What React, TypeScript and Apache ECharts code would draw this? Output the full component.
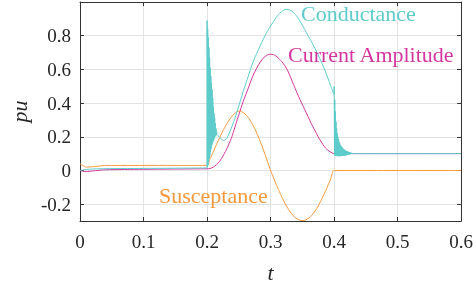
import React, { useEffect, useRef } from "react";
import * as echarts from "echarts";

// ---- data ----
const xTicks = [0, 0.1, 0.2, 0.3, 0.4, 0.5, 0.6];
const yTicks = [-0.2, 0, 0.2, 0.4, 0.6, 0.8];

const condStart: [number, number][] = [[0, 0.0], [0.01, 0.006], [0.03, 0.01], [0.1, 0.012], [0.2, 0.015]];
const condBurst1: [number, number][] = [
  [0.2, 0.015], [0.2001, 0.89], [0.2006, 0.02], [0.2011, 0.84], [0.2016, 0.03], [0.2021, 0.79], [0.2026, 0.05],
  [0.2031, 0.73], [0.2036, 0.07], [0.2041, 0.67], [0.2046, 0.09], [0.2051, 0.61], [0.2056, 0.11], [0.2061, 0.56],
  [0.2066, 0.13], [0.2071, 0.52], [0.2076, 0.15], [0.2081, 0.48], [0.2086, 0.16], [0.2091, 0.43], [0.2096, 0.17],
  [0.2101, 0.38], [0.2106, 0.18], [0.2111, 0.34], [0.2116, 0.19], [0.2121, 0.31], [0.2126, 0.2], [0.2131, 0.28],
  [0.2136, 0.205], [0.2141, 0.25], [0.2146, 0.21], [0.2151, 0.23], [0.2156, 0.215],
];
const condPulse: [number, number][] = [
  [0.2156, 0.215], [0.218, 0.205], [0.222, 0.188], [0.226, 0.178], [0.231, 0.19], [0.236, 0.23], [0.242, 0.29],
  [0.249, 0.37], [0.257, 0.47], [0.265, 0.56], [0.272, 0.64], [0.28, 0.71], [0.288, 0.775], [0.295, 0.826],
  [0.303, 0.875], [0.311, 0.92], [0.318, 0.945], [0.324, 0.956], [0.33, 0.953], [0.337, 0.935], [0.345, 0.895],
  [0.354, 0.835], [0.365, 0.76], [0.375, 0.685], [0.385, 0.6], [0.395, 0.5], [0.4, 0.45],
];
const condBurst2: [number, number][] = [
  [0.4, 0.45], [0.4001, 0.5], [0.4006, 0.09], [0.4011, 0.42], [0.4016, 0.088], [0.4021, 0.35], [0.4026, 0.087],
  [0.4031, 0.29], [0.4036, 0.086], [0.4041, 0.25], [0.4046, 0.085], [0.4051, 0.22], [0.4056, 0.085], [0.4061, 0.2],
  [0.4066, 0.085], [0.4071, 0.185], [0.4076, 0.085], [0.4081, 0.17], [0.4086, 0.085], [0.4091, 0.16], [0.4096, 0.085],
  [0.4101, 0.15], [0.4106, 0.085], [0.4111, 0.145], [0.4116, 0.086], [0.4121, 0.14], [0.4126, 0.086], [0.4131, 0.135],
  [0.4136, 0.087], [0.4141, 0.13], [0.4146, 0.087], [0.4151, 0.127], [0.4156, 0.088], [0.4161, 0.124], [0.4166, 0.088],
  [0.4171, 0.121], [0.4176, 0.089], [0.4181, 0.118], [0.4186, 0.09], [0.4191, 0.116], [0.4196, 0.091], [0.4201, 0.114],
  [0.4206, 0.092], [0.4211, 0.112], [0.4216, 0.093], [0.4221, 0.111], [0.4226, 0.094], [0.4231, 0.11], [0.4236, 0.095],
  [0.4241, 0.108], [0.4246, 0.096], [0.4251, 0.107], [0.4256, 0.097], [0.4261, 0.106], [0.4266, 0.098], [0.4271, 0.105],
  [0.4276, 0.098], [0.4281, 0.104], [0.4286, 0.099], [0.4291, 0.103], [0.4296, 0.099], [0.4301, 0.102], [0.431, 0.1],
];
const condEnd: [number, number][] = [[0.431, 0.1], [0.6, 0.1]];

const current: [number, number][] = [
  [0, 0], [0.005, -0.005], [0.01, -0.007], [0.02, -0.003], [0.04, 0.004], [0.1, 0.007], [0.2, 0.01],
  [0.205, 0.012], [0.21, 0.02], [0.215, 0.035], [0.22, 0.055], [0.225, 0.085], [0.23, 0.12], [0.236, 0.17],
  [0.24, 0.21], [0.245, 0.27], [0.25, 0.33], [0.257, 0.41], [0.265, 0.49], [0.272, 0.56], [0.28, 0.62],
  [0.288, 0.665], [0.295, 0.685], [0.3, 0.69], [0.305, 0.687], [0.31, 0.675], [0.318, 0.645], [0.326, 0.6],
  [0.334, 0.53], [0.344, 0.44], [0.354, 0.36], [0.364, 0.28], [0.375, 0.2], [0.385, 0.14], [0.392, 0.115],
  [0.397, 0.104], [0.4, 0.1], [0.45, 0.1], [0.6, 0.1],
];

const susceptance: [number, number][] = [
  [0, 0.04], [0.004, 0.03], [0.01, 0.02], [0.02, 0.022], [0.035, 0.028], [0.05, 0.03], [0.2, 0.03],
  [0.205, 0.07], [0.21, 0.112], [0.215, 0.155], [0.22, 0.196], [0.225, 0.235], [0.23, 0.27], [0.235, 0.3],
  [0.24, 0.325], [0.245, 0.343], [0.25, 0.352], [0.255, 0.348], [0.26, 0.335], [0.265, 0.314], [0.27, 0.285],
  [0.275, 0.249], [0.28, 0.207], [0.285, 0.16], [0.29, 0.109], [0.295, 0.055], [0.3, 0], [0.305, -0.047],
  [0.31, -0.092], [0.315, -0.135], [0.32, -0.175], [0.325, -0.211], [0.33, -0.241], [0.335, -0.266], [0.34, -0.283],
  [0.345, -0.294], [0.35, -0.298], [0.355, -0.294], [0.36, -0.283], [0.365, -0.266], [0.37, -0.241], [0.375, -0.211],
  [0.38, -0.175], [0.385, -0.135], [0.39, -0.092], [0.395, -0.047], [0.4, 0], [0.45, 0], [0.6, 0],
];

const CYAN = "#5ecbcb";
const MAGENTA = "#d3369f";
const ORANGE = "#f8993c";
const FONT = "'Liberation Serif', 'Times New Roman', 'DejaVu Serif', serif";
const TXT = "#262626";

export default function App() {
  const ref = useRef<HTMLDivElement>(null);
  useEffect(() => {
    if (!ref.current) return;
    const chart = echarts.init(ref.current, undefined, { renderer: "svg" });
    const axisLineStyle = { color: "#333", width: 1 };
    const fmt = (v: number) => (Math.abs(v) < 1e-9 ? "0" : String(+v.toFixed(1)));
    const line = (data: [number, number][], color: string, smooth: number | boolean, z: number) => ({
      type: "line",
      data,
      smooth,
      symbol: "none",
      lineStyle: { color, width: 1 },
      itemStyle: { color },
      z,
      silent: true,
    });
    chart.setOption({
      animation: false,
      textStyle: { fontFamily: FONT },
      grid: { left: 73, right: 13, top: 2, bottom: 64 },
      xAxis: [
        {
          type: "value",
          min: 0,
          max: 0.6,
          interval: 0.1,
          position: "bottom",
          name: "t",
          nameLocation: "middle",
          nameGap: 40,
          nameTextStyle: { fontFamily: FONT, fontStyle: "italic", fontSize: 22, color: TXT },
          axisLine: { show: true, onZero: false, lineStyle: axisLineStyle },
          axisTick: { show: true, inside: true, length: 4, lineStyle: axisLineStyle },
          axisLabel: { fontFamily: FONT, fontSize: 19, color: TXT, margin: 11, formatter: fmt },
          splitLine: { show: true, lineStyle: { color: "#e3e3e3", width: 1 } },
        },
        {
          type: "value",
          min: 0,
          max: 0.6,
          interval: 0.1,
          position: "top",
          axisLine: { show: true, onZero: false, lineStyle: axisLineStyle },
          axisTick: { show: true, inside: true, length: 4, lineStyle: axisLineStyle },
          axisLabel: { show: false },
          splitLine: { show: false },
        },
      ],
      yAxis: [
        {
          type: "value",
          min: -0.3,
          max: 1.0,
          position: "left",
          name: "pu",
          nameLocation: "middle",
          nameGap: 26,
          nameTextStyle: { fontFamily: FONT, fontStyle: "italic", fontSize: 22, color: TXT },
          axisLine: { show: true, onZero: false, lineStyle: axisLineStyle },
          axisTick: { show: true, inside: true, length: 4, lineStyle: axisLineStyle, customValues: yTicks },
          axisLabel: { fontFamily: FONT, fontSize: 19, color: TXT, margin: 9, formatter: fmt, customValues: yTicks },
          splitLine: { show: true, lineStyle: { color: "#e3e3e3", width: 1 } },
        },
        {
          type: "value",
          min: -0.3,
          max: 1.0,
          position: "right",
          axisLine: { show: true, onZero: false, lineStyle: axisLineStyle },
          axisTick: { show: true, inside: true, length: 4, lineStyle: axisLineStyle, customValues: yTicks },
          axisLabel: { show: false, customValues: yTicks },
          splitLine: { show: false },
        },
      ],
      series: [
        line(current, MAGENTA, 0.25, 2),
        line(susceptance, ORANGE, 0.25, 3),
        line(condStart, CYAN, 0.25, 4),
        line(condBurst1, CYAN, false, 4),
        line(condPulse, CYAN, 0.25, 4),
        line(condBurst2, CYAN, false, 4),
        line(condEnd, CYAN, false, 4),
      ],
      graphic: [
        { type: "text", left: 301, top: 2, style: { text: "Conductance", fill: CYAN, fontFamily: FONT, fontSize: 22 }, z: 10 },
        { type: "text", left: 288, top: 43, style: { text: "Current Amplitude", fill: MAGENTA, fontFamily: FONT, fontSize: 22 }, z: 10 },
        { type: "text", left: 159, top: 184, style: { text: "Susceptance", fill: ORANGE, fontFamily: FONT, fontSize: 22 }, z: 10 },
      ],
    });
    return () => chart.dispose();
  }, []);
  return <div ref={ref} style={{ position: "fixed", left: 0, top: 0, width: 476, height: 288 }} />;
}
